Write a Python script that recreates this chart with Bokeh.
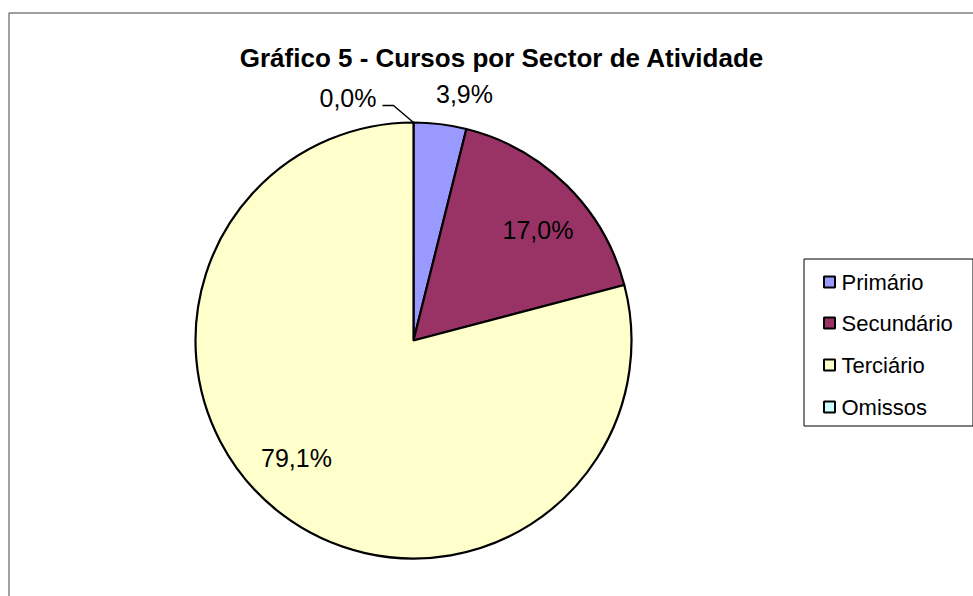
import numpy as np
from bokeh.plotting import figure
from bokeh.models import Range1d, ColumnDataSource
from bokeh.core.properties import value
from bokeh.embed import file_html
from bokeh.resources import INLINE

# ---- data ----
categories = ["Primário", "Secundário", "Terciário", "Omissos"]
shares = [3.9, 17.0, 79.1, 0.0]
colors = ["#9999FF", "#993366", "#FFFFCC", "#CCFFFF"]
title_text = "Gráfico 5 - Cursos por Sector de Atividade"

# ---- layout ----
W, H = 973, 596
FONT = "Liberation Sans"
cx, cy, r = 413, 256, 218
# label positions (figure coords), one per category
label_pos = [(464, 502.5), (537.5, 366.5), (296, 139), (347.5, 498.5)]

p = figure(width=W, height=H, x_range=Range1d(0, W), y_range=Range1d(0, H),
           output_backend="svg", toolbar_location=None, min_border=0,
           background_fill_color="white", border_fill_color="white")
p.axis.visible = False
p.grid.visible = False
p.outline_line_color = None

# outer chart border (left and top visible)
p.line(x=[8.5, 8.5, W + 20], y=[-20, 583.5, 583.5], line_color="#808080", line_width=1.5)

# pie wedges (skip zero-size slices, which would render as full circles)
total = sum(shares)
fr = np.array(shares) / total
cum = np.concatenate([[0], np.cumsum(fr)])
start = np.pi / 2 - 2 * np.pi * cum[:-1]
end = np.pi / 2 - 2 * np.pi * cum[1:]
keep = fr > 0
src = ColumnDataSource(dict(start=start[keep], end=end[keep],
                            color=[c for c, k in zip(colors, keep) if k]))
p.wedge(x=cx, y=cy, radius=r, start_angle="start", end_angle="end", direction="clock",
        fill_color="color", line_color="black", line_width=2.2, source=src)

# labels
labels = [f"{v:.1f}%".replace(".", ",") for v in shares]
p.text(x=[q[0] for q in label_pos], y=[q[1] for q in label_pos], text=labels,
       text_font=value(FONT), text_font_size="25px", text_align="center",
       text_baseline="middle", text_color="black")

# leader line for the zero slice (Omissos), ending on the pie edge at its angle
ang = end[3]
ex, ey = cx + r * np.cos(ang), cy + r * np.sin(ang)
p.line(x=[382, 393, ex], y=[491, 491, ey], line_color="black", line_width=1.5)

# title
p.text(x=[501.5], y=[539], text=[title_text], text_font=value(FONT), text_font_size="26px",
       text_font_style="bold", text_align="center", text_baseline="middle", text_color="black")

# legend
lx0, lx1, ly0, ly1 = 803.5, 972.5, 170.5, 337.5
p.line(x=[lx0, lx1, lx1, lx0, lx0], y=[ly0, ly0, ly1, ly1, ly0], line_color="black", line_width=1)
ys = [314.5, 273.5, 231.5, 189.5]
p.rect(x=[829] * len(categories), y=ys, width=11, height=11, fill_color=colors,
       line_color="black", line_width=2)
p.text(x=[841] * len(categories), y=ys, text=categories, text_font=value(FONT),
       text_font_size="22px", text_align="left", text_baseline="middle", text_color="black")

open("out.html", "w").write(file_html(p, INLINE))
